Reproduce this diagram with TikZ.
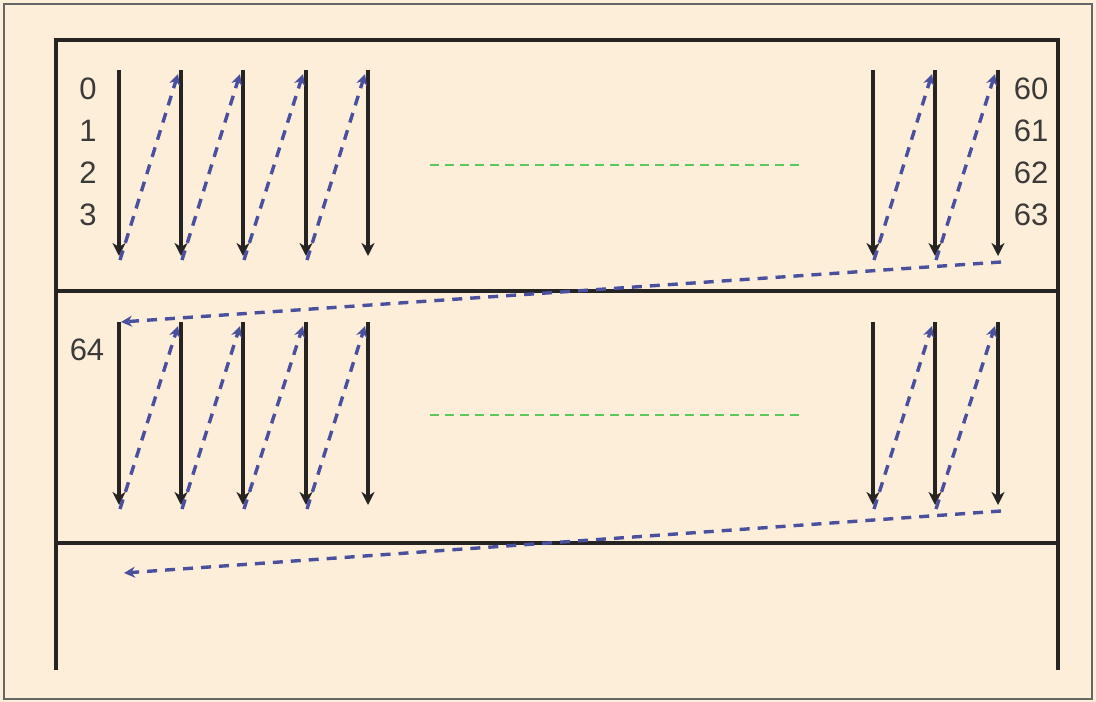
\documentclass[tikz,border=0pt]{standalone}
\usepackage{fontspec}
\setmainfont{Liberation Sans}
\usetikzlibrary{arrows.meta}
\definecolor{bg}{HTML}{FDEEDA}
\definecolor{frame}{HTML}{262422}
\definecolor{blu}{HTML}{4A4F9E}
\definecolor{grn}{HTML}{5CC85C}
\tikzset{
  blk/.style={draw=frame, line width=3.4pt, -{Stealth[length=13pt,width=13pt,inset=4pt]}},
  bluarrow/.style={draw=blu, line width=3.4pt, dash pattern=on 10pt off 8pt, -{Stealth[length=11pt,width=11pt]}},
  grnline/.style={draw=grn, line width=2pt, dash pattern=on 9pt off 6pt},
  wall/.style={draw=frame, line width=3.6pt},
  lbl/.style={inner sep=0pt, font=\fontsize{31}{36}\selectfont, text=frame!90}
}
\begin{document}
\begin{tikzpicture}[x=1pt,y=-1pt]
\useasboundingbox (0,0) rectangle (1096,702);
\fill[bg] (0,0) rectangle (1096,702);
\draw[draw=gray!80!black, line width=2.4pt] (4,4) rectangle (1092,699);
% walls
\coordinate (tl) at (56,40); \coordinate (tr) at (1058,40);
\coordinate (bl) at (56,670); \coordinate (br) at (1058,670);
\coordinate (m1l) at (56,291); \coordinate (m1r) at (1058,291);
\coordinate (m2l) at (56,543); \coordinate (m2r) at (1058,543);
\draw[wall] (bl) -- (tl) -- (tr) -- (br);
\draw[wall] (m1l) -- (m1r);
\draw[wall] (m2l) -- (m2r);
% columns
\foreach \n/\x in {1/119,2/181,3/243,4/306,5/368,6/873,7/935,8/998} {
  \coordinate (a\n t) at (\x,70); \coordinate (a\n b) at (\x,256);
  \coordinate (b\n t) at (\x,322); \coordinate (b\n b) at (\x,505);
  \draw[blk] (a\n t) -- (a\n b);
  \draw[blk] (b\n t) -- (b\n b);
}
% blue zigzags
\foreach \p/\q in {1/2,2/3,3/4,4/5,6/7,7/8} {
  \draw[bluarrow] ([xshift=1pt,yshift=-4pt]a\p b) -- ([xshift=-3pt,yshift=-4pt]a\q t);
  \draw[bluarrow] ([xshift=1pt,yshift=-4pt]b\p b) -- ([xshift=-3pt,yshift=-4pt]b\q t);
}
\coordinate (c1) at (124,573);
\draw[bluarrow] ([xshift=3pt,yshift=-6pt]a8b) -- ([xshift=2pt]b1t);
\draw[bluarrow] ([xshift=3pt,yshift=-6pt]b8b) -- (c1);
% green dots
\coordinate (g1l) at (430,165); \coordinate (g1r) at (802,165);
\coordinate (g2l) at (430,415); \coordinate (g2r) at (802,415);
\draw[grnline] (g1l) -- (g1r);
\draw[grnline] (g2l) -- (g2r);
% labels
\node[lbl] (l0) at (88,89) {0};
\node[lbl] (l1) at (88,131) {1};
\node[lbl] (l2) at (88,173) {2};
\node[lbl] (l3) at (88,215) {3};
\node[lbl] (l60) at (1031,89) {60};
\node[lbl] (l61) at (1031,131) {61};
\node[lbl] (l62) at (1031,173) {62};
\node[lbl] (l63) at (1031,215) {63};
\node[lbl] (l64) at (87,350) {64};
\end{tikzpicture}
\end{document}
